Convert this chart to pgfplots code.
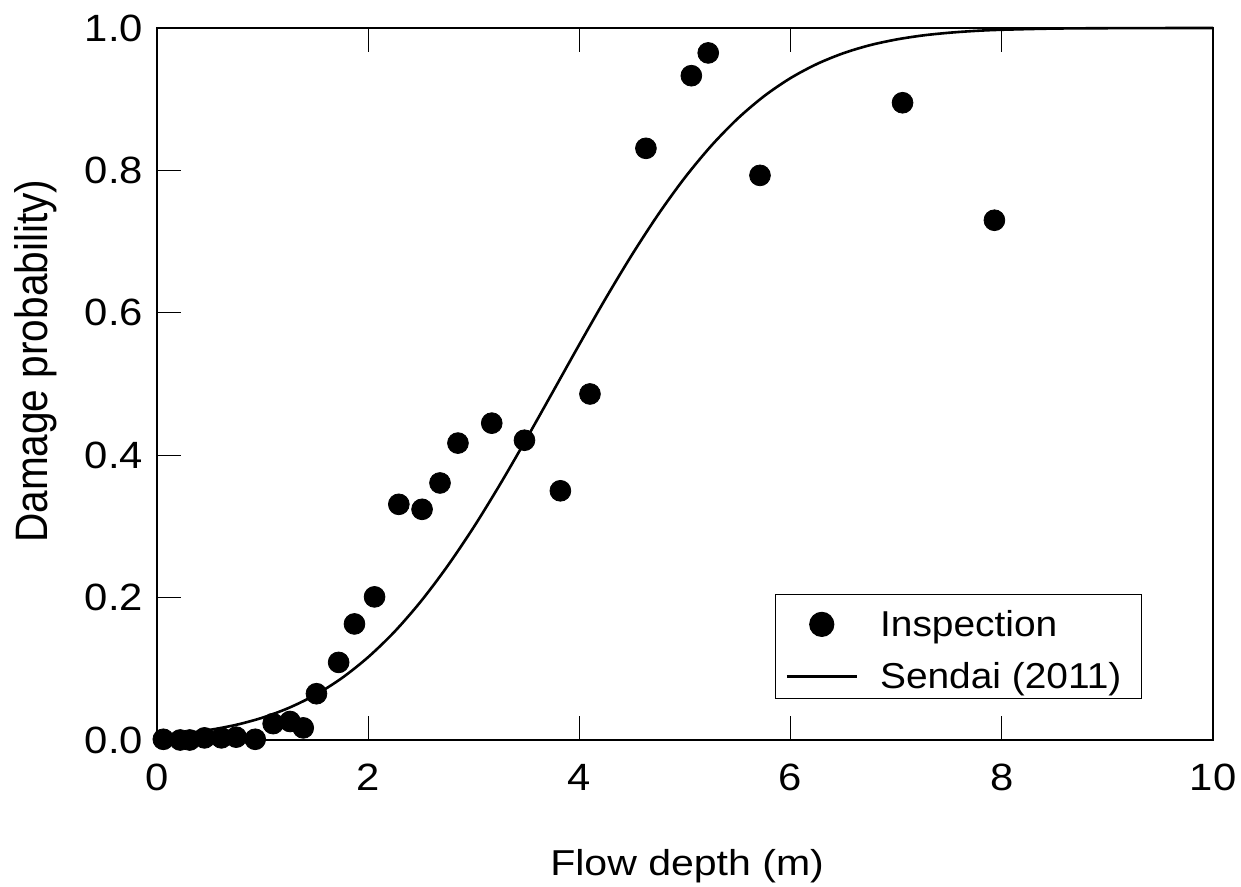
\documentclass[border=0pt]{standalone}
\usepackage{pgfplots}
\pgfplotsset{compat=1.18}
\usepackage{fontspec}
\setmainfont{Liberation Sans}
\pgfplotsset{
  dotlegend/.style={legend image code/.code={\path[draw=none] (0pt,-2pt) -- (35pt,-2pt); \draw[##1, mark size=6pt] plot coordinates {(17.5pt,-2pt)};}},
  linelegend/.style={legend image code/.code={\draw[##1, line width=1.3pt] (0pt,-2pt) -- (35pt,-2pt);}},
}
\begin{document}
\begin{tikzpicture}
\begin{axis}[
  at={(0,0)}, anchor=south west,
  scale only axis,
  width=528pt, height=356pt,
  xmin=0, xmax=10, ymin=0, ymax=1,
  xtick={0,2,4,6,8,10},
  ytick={0,0.2,0.4,0.6,0.8,1.0},
  xtick pos=both, ytick pos=left,
  xticklabel pos=lower,
  tick align=inside,
  major tick length=12pt,
  every tick/.style={black, line width=0.5pt},
  axis line style={black, line width=0.8pt},
  /pgf/number format/assume math mode=true,
  yticklabel style={/pgf/number format/fixed, /pgf/number format/fixed zerofill, /pgf/number format/precision=1,
    font=\fontsize{19}{22}\selectfont, anchor=east, inner sep=0pt, xshift=-6.75pt, xscale=1.1},
  xticklabel style={font=\fontsize{19}{22}\selectfont, anchor=center, inner sep=0pt, yshift=-18.5pt, xscale=1.1},
  scaled y ticks=false,
  xlabel={\scalebox{1.14}[1]{Flow depth (m)}},
  ylabel={\scalebox{1}[1.12]{Damage probability)}},
  xlabel style={font=\fontsize{18}{21}\selectfont, at={(axis description cs:0.502,-0.177)}, anchor=center},
  ylabel style={font=\fontsize{20.3}{23}\selectfont, at={(axis description cs:-0.1146,0.532)}, anchor=center},
  legend style={at={(axis description cs:0.9328,0.0576)}, anchor=south east, draw=black, line width=0.6pt,
    font=\fontsize{18}{21}\selectfont, row sep=4pt, column sep=11pt, inner xsep=5pt, inner ysep=2pt,
    nodes={inner xsep=0pt, inner ysep=2pt, text height=17pt, text depth=1pt}},
  legend cell align=left,
  clip=false,
]
\addplot[only marks, mark=*, mark size=5.2pt, black, dotlegend] coordinates {
(0.06,0.001) (0.22,0.0) (0.31,0.0) (0.45,0.003) (0.61,0.003) (0.75,0.004) (0.93,0.001)
(1.10,0.023) (1.26,0.026) (1.385,0.017) (1.51,0.065) (1.72,0.109) (1.87,0.163)
(2.06,0.201) (2.29,0.331) (2.51,0.324) (2.68,0.361) (2.85,0.417) (3.17,0.445)
(3.48,0.421) (3.82,0.350) (4.10,0.486) (4.63,0.831) (5.06,0.933) (5.22,0.965)
(5.71,0.793) (7.06,0.895) (7.93,0.730)
};
\addlegendentry{\scalebox{1.08}[1]{Inspection}}
\addplot[black, line width=1.3pt, smooth, no marks, linelegend] coordinates {
(0,0.0058) (0.25,0.0091) (0.5,0.0142) (0.75,0.0213) (1.0,0.0314) (1.25,0.0452)
(1.5,0.0634) (1.75,0.0869) (2.0,0.1164) (2.25,0.1522) (2.5,0.1949) (2.75,0.2441)
(3.0,0.2991) (3.25,0.3594) (3.5,0.4234) (3.75,0.4894) (4.0,0.5557) (4.25,0.6205)
(4.5,0.6820) (4.75,0.7389) (5.0,0.7901) (5.25,0.8348) (5.5,0.8729) (5.75,0.9044)
(6.0,0.9297) (6.25,0.9495) (6.5,0.9646) (6.75,0.9758) (7.0,0.9838) (7.25,0.9895)
(7.5,0.9933) (7.75,0.9959) (8.0,0.9975) (8.5,0.9992) (9.0,0.9997) (9.5,0.9999) (10,1.0)
};
\addlegendentry{\scalebox{1.08}[1]{Sendai (2011)}\hspace*{5pt}}
\end{axis}
\pgfresetboundingbox
\useasboundingbox (-78.5pt,-73.5pt) rectangle (542pt,370pt);
\end{tikzpicture}
\end{document}
